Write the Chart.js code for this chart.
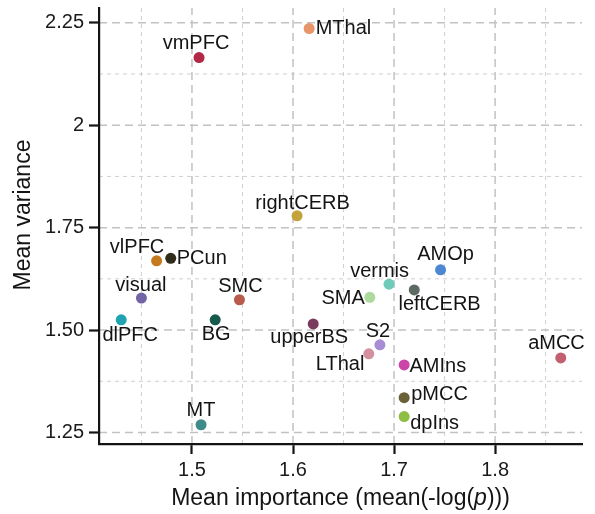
<!DOCTYPE html>
<html>
<head>
<meta charset="utf-8">
<script src="https://cdn.jsdelivr.net/npm/chart.js@4.4.1/dist/chart.umd.min.js"></script>
<style>
html, body { margin: 0; padding: 0; background: #fff; }
#wrap { width: 595px; height: 514px; }
</style>
</head>
<body>
<div id="wrap"><canvas id="chart"></canvas></div>
<script>
const regions = ['vmPFC', 'MThal', 'rightCERB', 'vlPFC', 'PCun', 'visual', 'SMC', 'dlPFC', 'BG', 'MT',
    'upperBS', 'AMOp', 'vermis', 'leftCERB', 'SMA', 'S2', 'LThal', 'AMIns', 'aMCC', 'pMCC', 'dpIns'];
const importance = [1.507, 1.616, 1.604, 1.465, 1.479, 1.450, 1.547, 1.430, 1.523, 1.509,
    1.620, 1.746, 1.695, 1.720, 1.676, 1.686, 1.675, 1.710, 1.865, 1.710, 1.710];
const variance = [2.165, 2.236, 1.779, 1.669, 1.675, 1.578, 1.574, 1.525, 1.525, 1.269,
    1.515, 1.647, 1.612, 1.598, 1.580, 1.464, 1.442, 1.415, 1.432, 1.335, 1.289];
const regionColors = ['#b22845', '#e8956a', '#c3a43c', '#c67a1e', '#2f2c1a', '#7264a6', '#b85a4e', '#1fa3b0', '#165a4c', '#3f8b8a',
    '#7b3b5e', '#4d86d1', '#6ecab9', '#5c6a62', '#acd99c', '#a98dd4', '#d4909f', '#cc45a8', '#c2606f', '#6a6138', '#8fbe45'];

const xTicks = [1.5, 1.6, 1.7, 1.8];
const xTickLabels = ['1.5', '1.6', '1.7', '1.8'];
const yTicks = [1.25, 1.5, 1.75, 2, 2.25];
const yTickLabels = ['1.25', '1.50', '1.75', '2', '2.25'];
const xMinor = [1.45, 1.55, 1.65, 1.75, 1.85];
const yMinor = [1.375, 1.625, 1.875, 2.125];

// where each label sits relative to its point: [dx, dy, align]
const labelPlace = {
    vmPFC: [-3, -14, 'center'],
    MThal: [6.5, 0, 'left'],
    rightCERB: [5.5, -12.5, 'center'],
    vlPFC: [-19.5, -13.5, 'center'],
    PCun: [6, 0, 'left'],
    visual: [-0.5, -13, 'center'],
    SMC: [1, -13, 'center'],
    dlPFC: [9, 15.3, 'center'],
    BG: [1, 15, 'center'],
    MT: [0, -14.2, 'center'],
    upperBS: [-4, 13.3, 'center'],
    AMOp: [5, -15.7, 'center'],
    vermis: [-9.4, -13, 'center'],
    leftCERB: [25.3, 15, 'center'],
    SMA: [-5, 1, 'right'],
    S2: [-2, -13.4, 'center'],
    LThal: [-4.4, 10.6, 'right'],
    AMIns: [5.3, 1.5, 'left'],
    aMCC: [-4.3, -14, 'center'],
    pMCC: [7, -3, 'left'],
    dpIns: [6, 7, 'left'],
};

const FONT = '"Liberation Sans", Arial, Helvetica, sans-serif';

const gridPlugin = {
    id: 'ggGrid',
    beforeDraw(chart) {
        const {ctx, chartArea, scales} = chart;
        const line = (vals, axis, style) => {
            ctx.save();
            ctx.strokeStyle = style.color;
            ctx.lineWidth = style.width;
            ctx.setLineDash(style.dash);
            vals.forEach((v) => {
                ctx.beginPath();
                if (axis === 'x') {
                    const px = scales.x.getPixelForValue(v);
                    ctx.moveTo(px, chartArea.bottom);
                    ctx.lineTo(px, chartArea.top);
                } else {
                    const py = scales.y.getPixelForValue(v);
                    ctx.moveTo(chartArea.left, py);
                    ctx.lineTo(chartArea.right, py);
                }
                ctx.stroke();
            });
            ctx.restore();
        };
        const minor = {color: '#cfcfcf', width: 1, dash: [4, 4]};
        const major = {color: '#c2c2c2', width: 1.5, dash: [8, 5]};
        line(xMinor, 'x', minor);
        line(yMinor, 'y', minor);
        line(xTicks, 'x', major);
        line(yTicks, 'y', major);
    },
};

const labelPlugin = {
    id: 'pointLabels',
    afterDatasetsDraw(chart) {
        const {ctx} = chart;
        const meta = chart.getDatasetMeta(0);
        ctx.save();
        ctx.fillStyle = '#141414';
        ctx.font = '20px ' + FONT;
        ctx.textBaseline = 'middle';
        meta.data.forEach((pt, i) => {
            const p = labelPlace[regions[i]] || [0, -14, 'center'];
            ctx.textAlign = p[2];
            ctx.fillText(regions[i], pt.x + p[0], pt.y + p[1]);
        });
        ctx.restore();
    },
    afterDraw(chart) {
        const {ctx, chartArea} = chart;
        ctx.save();
        ctx.fillStyle = '#141414';
        ctx.textBaseline = 'alphabetic';
        // x title with italic p
        const parts = [['Mean importance (mean(-log(', 'normal'], ['p', 'italic'], [')))', 'normal']];
        let total = 0;
        parts.forEach((pt) => {
            ctx.font = pt[1] + ' 23px ' + FONT;
            total += ctx.measureText(pt[0]).width;
        });
        let x = (chartArea.left + chartArea.right) / 2 - total / 2;
        ctx.textAlign = 'left';
        parts.forEach((pt) => {
            ctx.font = pt[1] + ' 23px ' + FONT;
            ctx.fillText(pt[0], x, 505);
            x += ctx.measureText(pt[0]).width;
        });
        // y title
        ctx.font = '23px ' + FONT;
        ctx.translate(24, 215);
        ctx.rotate(-Math.PI / 2);
        ctx.textAlign = 'center';
        ctx.textBaseline = 'middle';
        ctx.fillText('Mean variance', 0, 0);
        ctx.restore();
    },
};

const chartCanvas = document.getElementById('chart');
const chartConfig = {
    type: 'scatter',
    data: {
        datasets: [{
            data: importance.map((v, i) => ({x: v, y: variance[i]})),
            backgroundColor: regionColors,
            borderWidth: 0,
            pointRadius: 5.5,
            pointHoverRadius: 5.5,
        }],
    },
    options: {
        animation: false,
        responsive: true,
        maintainAspectRatio: false,
        layout: {
            padding: {top: 8, right: 13, left: 0, bottom: 0},
        },
        plugins: {
            legend: {display: false},
            tooltip: {enabled: false},
        },
        scales: {
            x: {
                type: 'linear',
                min: 1.408,
                max: 1.886,
                afterBuildTicks: (scale) => {
                    scale.ticks = xTicks.map((v) => ({value: v}));
                },
                afterFit: (scale) => {
                    scale.height = 70;
                    scale.paddingLeft = 0;
                    scale.paddingRight = 0;
                },
                ticks: {
                    callback: (v) => xTickLabels[xTicks.indexOf(v)],
                    font: {family: FONT, size: 20},
                    color: '#1a1a1a',
                    padding: 4,
                    maxRotation: 0,
                },
                grid: {
                    drawOnChartArea: false,
                    drawTicks: true,
                    tickLength: 10,
                    tickWidth: 2.2,
                    tickColor: '#141414',
                },
                border: {display: true, color: '#141414', width: 2.2},
            },
            y: {
                type: 'linear',
                min: 1.222,
                max: 2.286,
                afterBuildTicks: (scale) => {
                    scale.ticks = yTicks.map((v) => ({value: v}));
                },
                afterFit: (scale) => {
                    scale.width = 99;
                    scale.paddingTop = 0;
                    scale.paddingBottom = 0;
                },
                ticks: {
                    callback: (v) => yTickLabels[yTicks.indexOf(v)],
                    font: {family: FONT, size: 20},
                    color: '#1a1a1a',
                    padding: 5,
                },
                grid: {
                    drawOnChartArea: false,
                    drawTicks: true,
                    tickLength: 10,
                    tickWidth: 2.2,
                    tickColor: '#141414',
                },
                border: {display: true, color: '#141414', width: 2.2},
            },
        },
    },
    plugins: [gridPlugin, labelPlugin],
};
const chart = new Chart(chartCanvas, chartConfig);
</script>
</body>
</html>
